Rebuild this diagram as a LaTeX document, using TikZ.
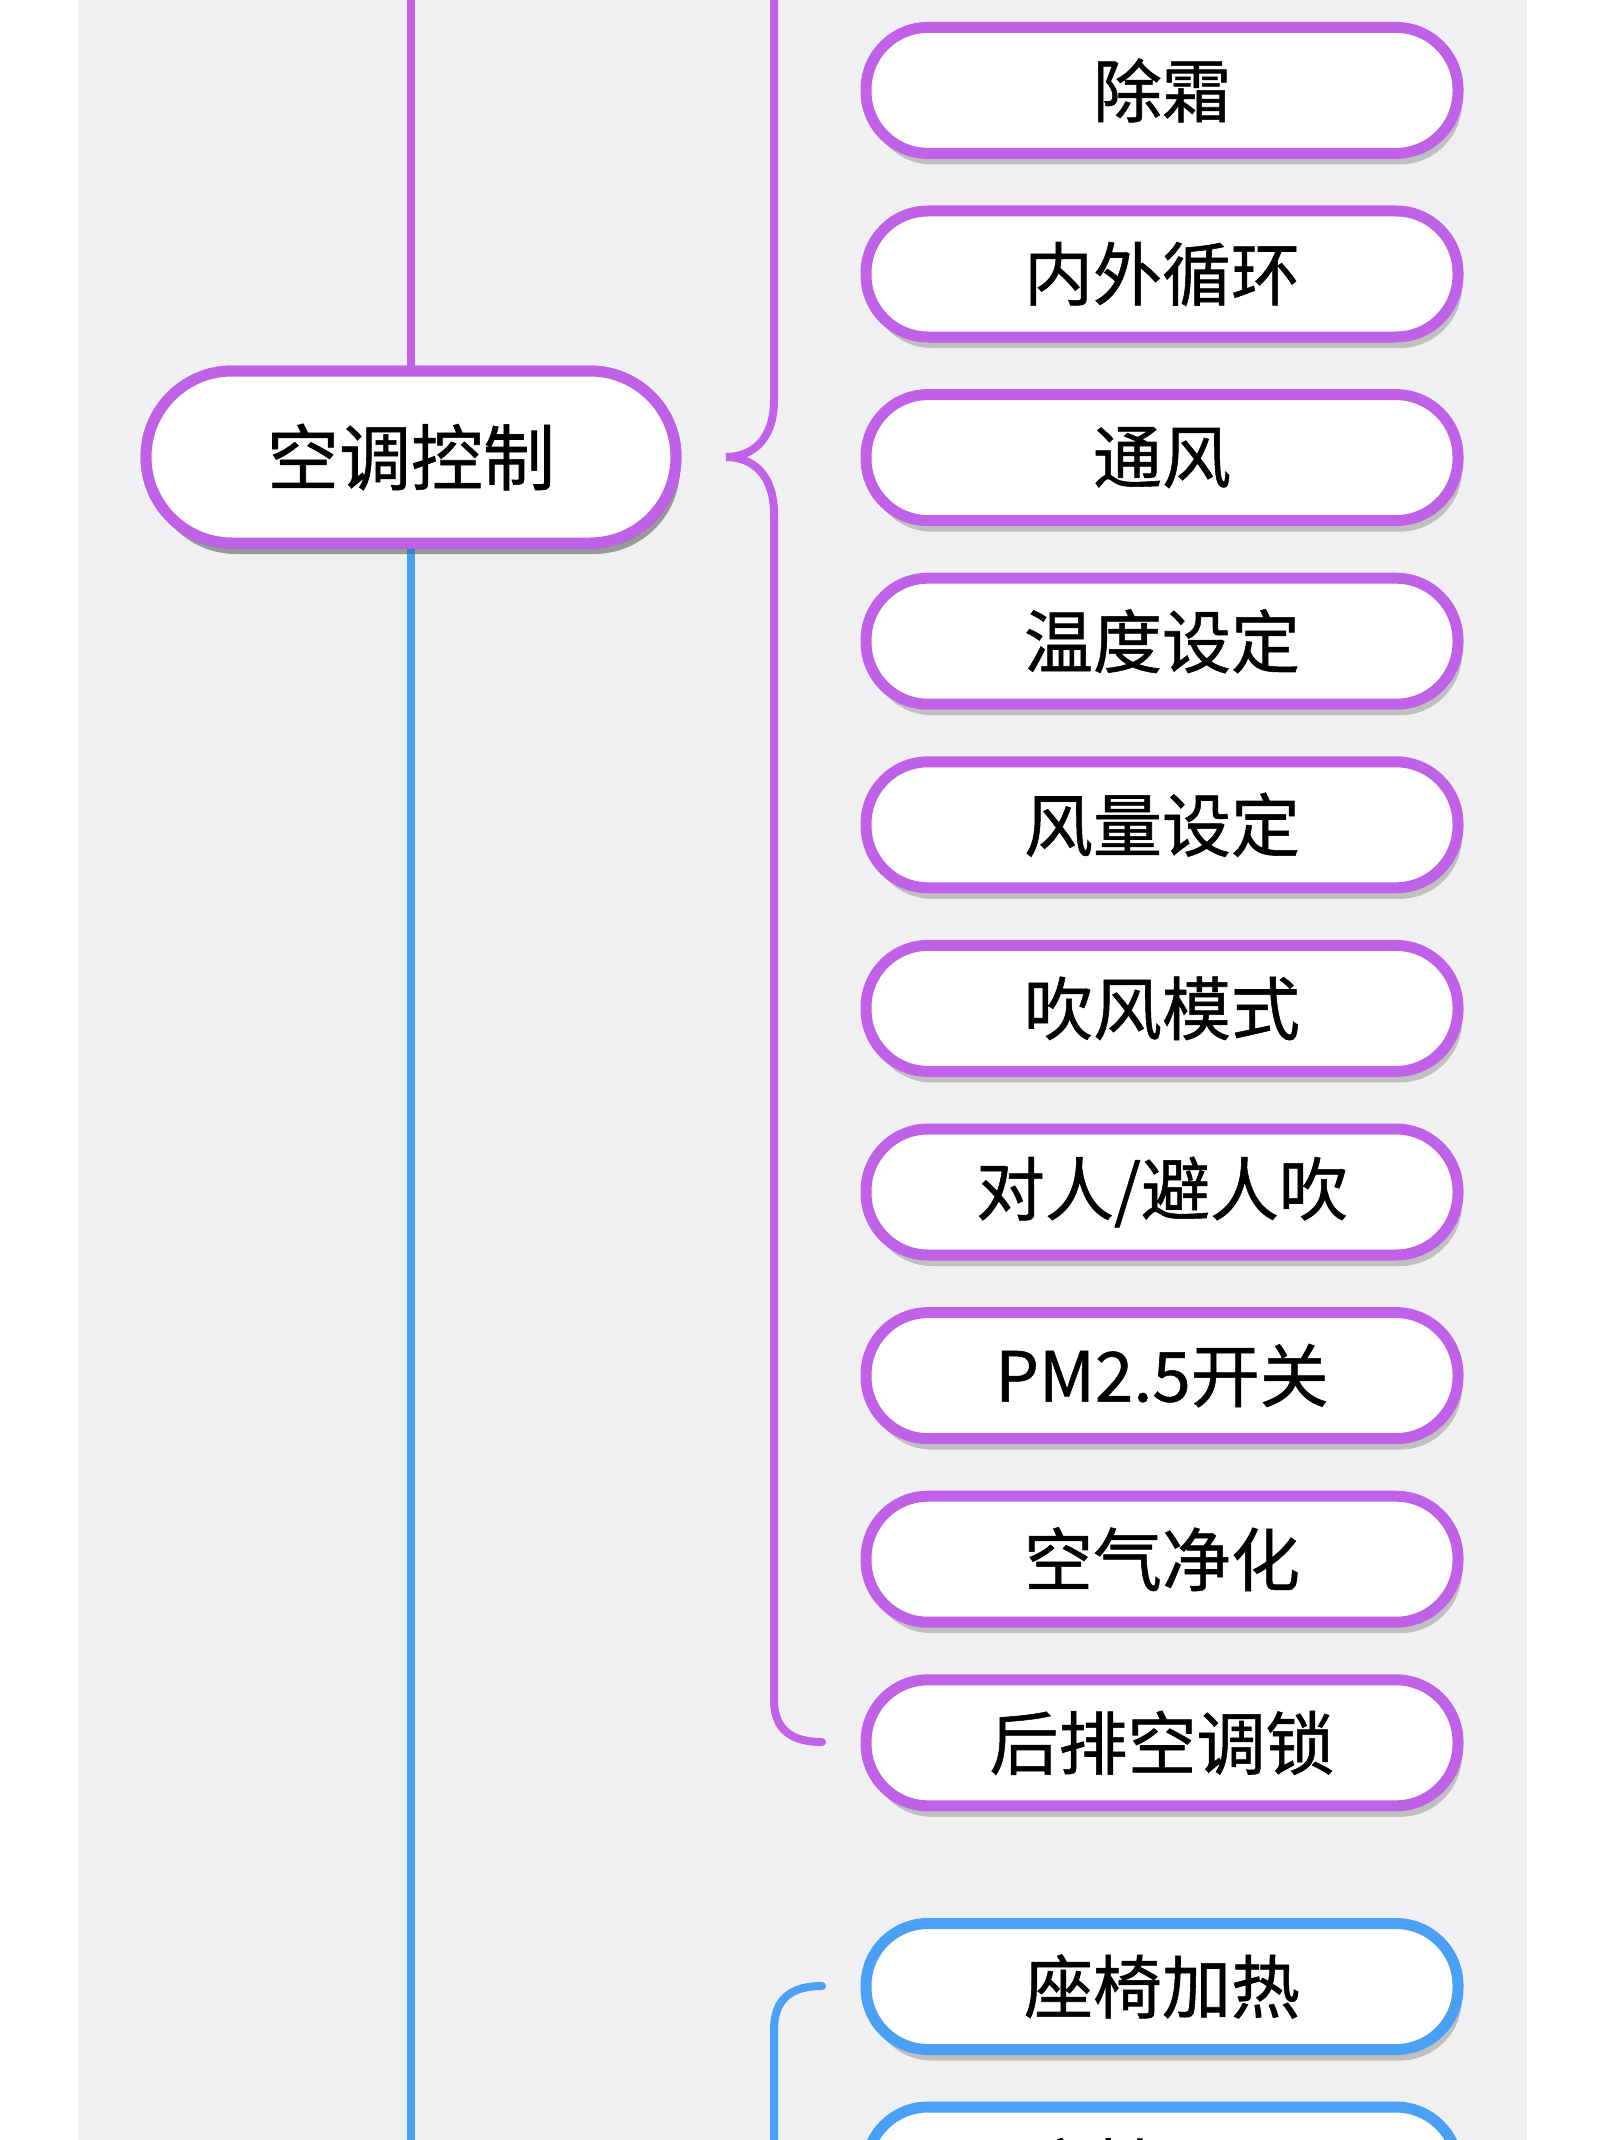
\documentclass[tikz,border=0pt]{standalone}
\usepackage{fontspec}
\newfontfamily\cjk[FakeBold=0.8]{Noto Sans CJK SC}
\usetikzlibrary{shadows}
\definecolor{purp}{RGB}{192,98,232}
\definecolor{bluel}{RGB}{74,160,245}
\definecolor{panel}{RGB}{240,240,242}
\tikzset{
  x=1pt,y=-1pt,
  sdw/.style={general shadow={shadow xshift=4pt,shadow yshift=-11pt,fill=black,opacity=0.2}},
  child/.style={draw=purp,line width=11pt,fill=white,rounded corners=62pt,
    minimum width=592pt,minimum height=126pt,inner sep=0pt,
    font=\cjk\fontsize{69}{80}\selectfont,sdw},
  bchild/.style={child,draw=bluel},
  central/.style={draw=purp,line width=11pt,fill=white,rounded corners=86pt,
    minimum width=530pt,minimum height=172pt,inner sep=0pt,
    font=\cjk\fontsize{72}{86}\selectfont,sdw},
  link/.style={line width=8pt},
  bracep/.style={draw=purp,line width=8pt,line cap=round},
  braceb/.style={draw=bluel,line width=8pt,line cap=round},
}
\begin{document}
\begin{tikzpicture}
\useasboundingbox (0,0) rectangle (1600,2140);
\clip (0,0) rectangle (1600,2140);
\fill[white] (0,0) rectangle (1600,2140);
\fill[panel] (78,0) rectangle (1527,2140);
% coordinates
\coordinate (topL) at (411,-10);
\coordinate (botL) at (411,2150);
\coordinate (btop) at (774,-10);
\coordinate (tip) at (726,457);
\coordinate (bend) at (822,1742);
\coordinate (bstart) at (822,1986);
\coordinate (bbot) at (774,2150);
% braces
\draw[bracep] (btop) -- (774,400) .. controls (774,440) and (752,457) .. (tip)
  .. controls (752,457) and (774,474) .. (774,514) -- (774,1700)
  .. controls (774,1730) and (792,1742) .. (bend);
\draw[braceb] (bstart) .. controls (792,1986) and (774,1998) .. (774,2030) -- (bbot);
% central node
\node[central] (c) at (411,457) {空调控制};
\draw[link,purp] (c.north) -- (topL);
\draw[link,bluel] (c.south) -- (botL);
\node[central] at (411,457) {空调控制};
% children
\node[child] (n1) at (1162,90.4) {除霜};
\node[child] (n2) at (1162,274) {内外循环};
\node[child] (n3) at (1162,457.6) {通风};
\node[child] (n4) at (1162,641.2) {温度设定};
\node[child] (n5) at (1162,824.8) {风量设定};
\node[child] (n6) at (1162,1008.4) {吹风模式};
\node[child] (n7) at (1162,1192) {对人/避人吹};
\node[child] (n8) at (1162,1375.6) {PM2.5开关};
\node[child] (n9) at (1162,1559.2) {空气净化};
\node[child] (n10) at (1162,1742.8) {后排空调锁};
\node[bchild] (m1) at (1162,1986.5) {座椅加热};
\node[bchild] (m2) at (1162,2170) {座椅通风};
\end{tikzpicture}
\end{document}
